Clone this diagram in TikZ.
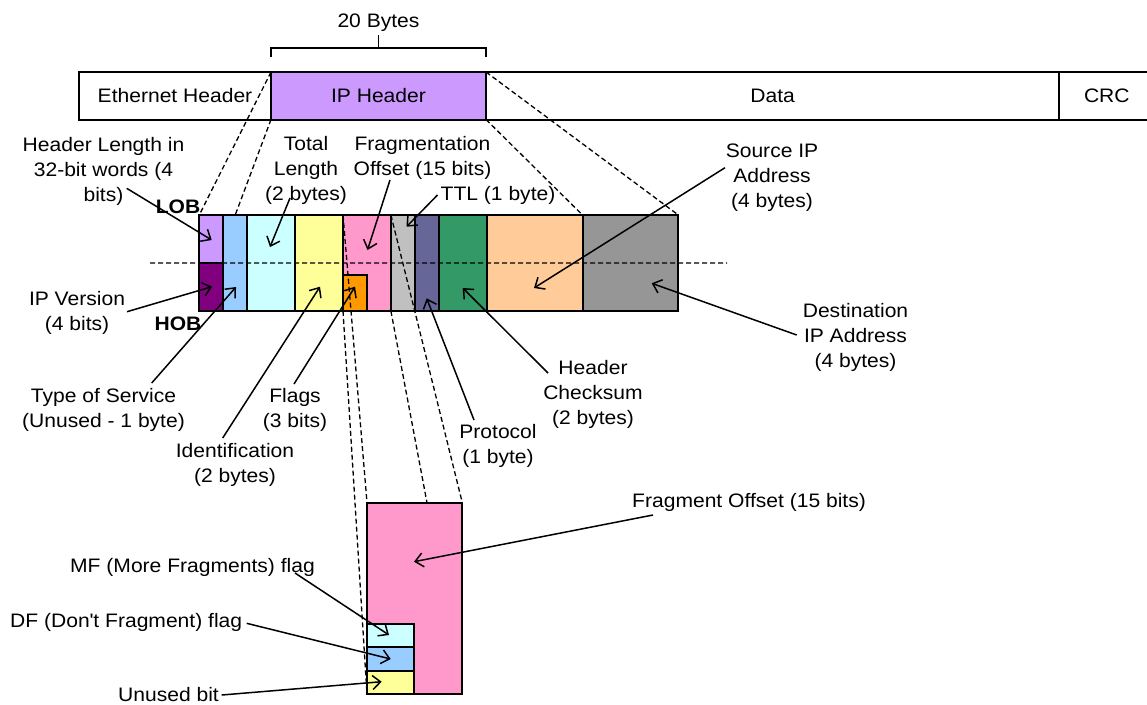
\documentclass[tikz,border=0pt]{standalone}
\usepackage{fontspec}
\setmainfont{Liberation Sans}[FakeStretch=1.08]
\usetikzlibrary{
    arrows.meta,
    positioning
}
\definecolor{ippurple}{HTML}{CC99FF}
\definecolor{darkpurple}{HTML}{800080}
\definecolor{lightblue}{HTML}{99CCFF}
\definecolor{lightcyan}{HTML}{CCFFFF}
\definecolor{lightyellow}{HTML}{FFFF99}
\definecolor{fragpink}{HTML}{FF99CC}
\definecolor{flagorange}{HTML}{FF9900}
\definecolor{ttlgrey}{HTML}{C0C0C0}
\definecolor{protoslate}{HTML}{666699}
\definecolor{sumgreen}{HTML}{339966}
\definecolor{srcpeach}{HTML}{FFCC99}
\definecolor{dstgrey}{HTML}{969696}
\tikzset{fld/.style={draw=black, line width=2pt, inner sep=0pt, outer sep=0pt, anchor=north west}}
\tikzset{lbl/.style={align=center, inner sep=0pt}}
\tikzset{ptr/.style={line width=1.5pt, -{Straight Barb[length=8pt,width=14pt]}}}
\tikzset{cut/.style={line width=1.3pt, dash pattern=on 5pt off 3pt}}

\begin{document}
\begin{tikzpicture}[x=1pt, y=-1pt, font=\fontsize{19.5}{25}\selectfont]
                        \useasboundingbox (0,0) rectangle (1147,704);
                        \node[fld, minimum width=192, minimum height=47.5] (eth) at (79,72) {Ethernet Header};
                        \node[fld, fill=ippurple, minimum width=215, minimum height=47.5] (ip) at (eth.north east) {IP Header};
                        \node[fld, minimum width=573.3, minimum height=47.5] (data) at (ip.north east) {Data};
                        \node[fld, minimum width=95, minimum height=47.5] (crc) at (data.north east) {CRC};
                        \node[lbl, anchor=base] (bytes) at (378.5,27.7) {20 Bytes};
                        \draw[line width=1.5pt]
                        ([yshift=15]ip.north west) -- ([yshift=24]ip.north west) -- ([yshift=24]ip.north east) -- ([yshift=15]ip.north east);
                        \draw[line width=1.5pt, shorten >=3pt] ([yshift=24]ip.north) -- (bytes.south);
                        \node[fld, fill=ippurple, minimum width=23.95, minimum height=48] (hlen) at (199.3,215) {};
                        \node[fld, fill=darkpurple, minimum width=23.95, minimum height=48] (ver) at (hlen.south west) {};
                        \node[fld, fill=lightblue, minimum width=23.95, minimum height=96] (tos) at (hlen.north east) {};
                        \node[fld, fill=lightcyan, minimum width=47.9, minimum height=96] (tlen) at (tos.north east) {};
                        \node[fld, fill=lightyellow, minimum width=47.9, minimum height=96] (ident) at (tlen.north east) {};
                        \node[fld, fill=fragpink, minimum width=47.9, minimum height=96] (frag) at (ident.north east) {};
                        \node[fld, fill=flagorange, minimum width=23.95, minimum height=36, anchor=south west] (flags) at (frag.south west) {};
                        \node[fld, fill=ttlgrey, minimum width=23.95, minimum height=96] (ttl) at (frag.north east) {};
                        \node[fld, fill=protoslate, minimum width=23.95, minimum height=96] (proto) at (ttl.north east) {};
                        \node[fld, fill=sumgreen, minimum width=47.9, minimum height=96] (csum) at (proto.north east) {};
                        \node[fld, fill=srcpeach, minimum width=95.8, minimum height=96] (src) at (csum.north east) {};
                        \node[fld, fill=dstgrey, minimum width=95.8, minimum height=96] (dst) at (src.north east) {};
                        \node[fld, fill=fragpink, minimum width=95.3, minimum height=191.6] (fbox) at (367,502.7) {};
                        \node[fld, fill=lightyellow, minimum width=47, minimum height=23.6, anchor=south west] (ubit) at (fbox.south west) {};
                        \node[fld, fill=lightblue, minimum width=47, minimum height=23.6, anchor=south west] (dfbit) at (ubit.north west) {};
                        \node[fld, fill=lightcyan, minimum width=47, minimum height=23.6, anchor=south west] (mfbit) at (dfbit.north west) {};
                        \coordinate (midl) at (150,263);
                        \coordinate (midr) at (727,263);
                        \coordinate (fcut) at (427,502.7);
                        \draw[cut]
                        (ip.north west) -- (hlen.north west)
                        (ip.south west) -- (tos.north)
                        (ip.north east) -- (dst.north east)
                        (ip.south east) -- (dst.north west)
                        (midl) -- (midr)
                        (frag.north west) -- (fbox.north west)
                        (flags.south west) -- (ubit.south west)
                        (frag.north east) -- (fbox.north east)
                        (frag.south east) -- (fcut);
                        \node[lbl] (hlenl) at (103.5,171.5) {Header Length in\\32-bit words (4\\bits)};
                        \node[lbl, anchor=base, font=\fontsize{19.5}{25}\selectfont\bfseries] (lob) at (178,213) {LOB};
                        \node[lbl, anchor=base, font=\fontsize{19.5}{25}\selectfont\bfseries] (hob) at (178,330) {HOB};
                        \node[lbl] (verl) at (77,312.5) {IP Version\\(4 bits)};
                        \node[lbl] (tosl) at (103.5,410) {Type of Service\\(Unused - 1 byte)};
                        \node[lbl] (tlenl) at (306,170) {Total\\Length\\(2 bytes)};
                        \node[lbl] (fragl) at (422.5,157.5) {Fragmentation\\Offset (15 bits)};
                        \node[lbl, anchor=base] (ttll) at (498,200) {TTL (1 byte)};
                        \node[lbl] (srcl) at (772,178) {Source IP\\Address\\(4 bytes)};
                        \node[lbl] (dstl) at (855.5,337) {Destination\\IP Address\\(4 bytes)};
                        \node[lbl] (csuml) at (593,394) {Header\\Checksum\\(2 bytes)};
                        \node[lbl] (protol) at (498,446) {Protocol\\(1 byte)};
                        \node[lbl] (flagsl) at (295,410) {Flags\\(3 bits)};
                        \node[lbl] (identl) at (235,465) {Identification\\(2 bytes)};
                        \node[lbl, anchor=base west] (offl) at (632,507) {Fragment Offset (15 bits)};
                        \node[lbl, anchor=base west] (mfl) at (70,572) {MF (More Fragments) flag};
                        \node[lbl, anchor=base west] (dfl) at (10,627) {DF (Don\textquotesingle t Fragment) flag};
                        \node[lbl, anchor=base west] (ubitl) at (118,701.5) {Unused bit};
                        \coordinate (hlenf) at (126.7,188.3);
                        \coordinate (hlent) at (211.7,240);
                        \coordinate (verf) at (127,311.7);
                        \coordinate (vert) at (212,286.7);
                        \coordinate (tosf) at (151.7,383);
                        \coordinate (tost) at (236,287);
                        \coordinate (tlenf) at (290,198);
                        \coordinate (tlent) at (270,247);
                        \coordinate (identf) at (222.7,438);
                        \coordinate (identt) at (320,286.7);
                        \coordinate (flagsf) at (294,384);
                        \coordinate (flagst) at (355,286.7);
                        \coordinate (fragf) at (390,180);
                        \coordinate (fragt) at (367.5,250);
                        \coordinate (ttlf) at (437.5,195);
                        \coordinate (ttlt) at (406.5,226.7);
                        \coordinate (protof) at (474,420);
                        \coordinate (protot) at (426.7,298.3);
                        \coordinate (csumf) at (548,373);
                        \coordinate (csumt) at (462.7,288);
                        \coordinate (srcf) at (725,167.7);
                        \coordinate (srct) at (534,288);
                        \coordinate (dstf) at (796.7,335);
                        \coordinate (dstt) at (651.7,283.3);
                        \coordinate (offf) at (653,515);
                        \coordinate (offt) at (414,561.7);
                        \coordinate (mff) at (295,573);
                        \coordinate (mft) at (389,635);
                        \coordinate (dff) at (246.7,623.3);
                        \coordinate (dft) at (390.7,659);
                        \coordinate (ubitf) at (221.7,695);
                        \coordinate (ubitt) at (381.7,681.7);
                        \draw[ptr] (hlenf) -- (hlent);
                        \draw[ptr] (verf) -- (vert);
                        \draw[ptr] (tosf) -- (tost);
                        \draw[ptr] (tlenf) -- (tlent);
                        \draw[ptr] (identf) -- (identt);
                        \draw[ptr] (flagsf) -- (flagst);
                        \draw[ptr] (fragf) -- (fragt);
                        \draw[ptr] (ttlf) -- (ttlt);
                        \draw[ptr] (protof) -- (protot);
                        \draw[ptr] (csumf) -- (csumt);
                        \draw[ptr] (srcf) -- (srct);
                        \draw[ptr] (dstf) -- (dstt);
                        \draw[ptr] (offf) -- (offt);
                        \draw[ptr] (mff) -- (mft);
                        \draw[ptr] (dff) -- (dft);
                        \draw[ptr] (ubitf) -- (ubitt);
                    \end{tikzpicture}
\end{document}
